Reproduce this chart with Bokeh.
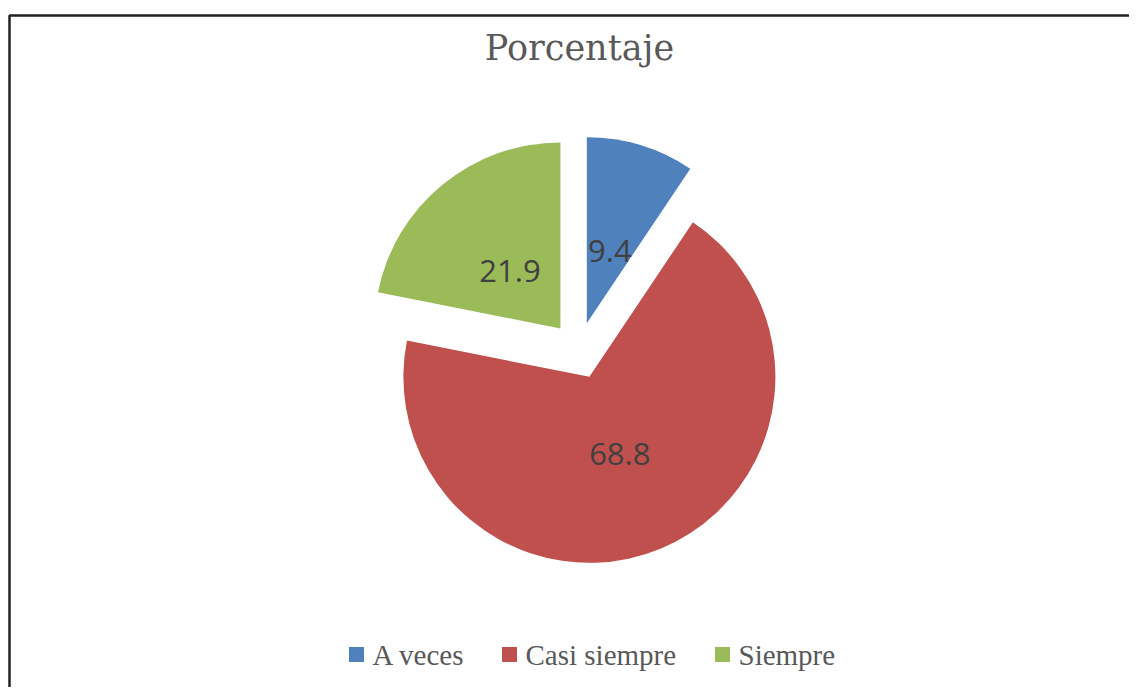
import numpy as np
from bokeh.plotting import figure
from bokeh.models import Range1d, ColumnDataSource
from bokeh.core.properties import value
from bokeh.embed import file_html
from bokeh.resources import INLINE

# ---- data ----
categories = ["A veces", "Casi siempre", "Siempre"]
values = [9.4, 68.8, 21.9]
colors = ["#4F81BD", "#C0504D", "#9BBB59"]
title_text = "Porcentaje"

# ---- layout (pixel-based data space) ----
W, H = 1129, 687
cx, cy = 578, 337          # pie centre
radius = 186
explode = 28.5
label_dist = 108
label_dy = -4
legend_x = [347, 500, 713]  # left edge of each legend item
legend_y = 33

p = figure(width=W, height=H, x_range=Range1d(0, W), y_range=Range1d(0, H),
           output_backend="svg", toolbar_location=None,
           x_axis_type=None, y_axis_type=None, min_border=0,
           outline_line_color=None, background_fill_color="white",
           border_fill_color="white")
p.xgrid.grid_line_color = None
p.ygrid.grid_line_color = None

vals = np.array(values, dtype=float)
frac = vals / vals.sum()
cum = np.concatenate([[0.0], np.cumsum(frac)]) * 2 * np.pi
th_s, th_e = cum[:-1], cum[1:]
mid = (th_s + th_e) / 2

src = ColumnDataSource(dict(
    cat=categories,
    val=[str(v) for v in values],
    color=colors,
    x=cx + explode * np.sin(mid),
    y=cy + explode * np.cos(mid),
    start=np.pi / 2 - th_s,
    end=np.pi / 2 - th_e,
    lx=cx + label_dist * np.sin(mid),
    ly=cy + label_dist * np.cos(mid) + label_dy,
))

p.wedge(x="x", y="y", radius=radius, start_angle="start", end_angle="end",
        direction="clock", fill_color="color", line_color=None, source=src)

p.text(x="lx", y="ly", text="val", source=src, text_align="center",
       text_baseline="middle", text_font=value("Open Sans"),
       text_font_size="31px", text_color="#404040")

# title
p.text(x=[cx + 1], y=[640], text=[title_text], text_align="center",
       text_baseline="alphabetic", text_font=value("DejaVu Serif"),
       text_font_size="35px", text_color="#595959")

# legend
lg = ColumnDataSource(dict(
    sx=[x + 9 for x in legend_x],
    tx=[x + 25 for x in legend_x],
    y=[legend_y] * len(categories),
    cat=categories,
    color=colors,
))
p.scatter(x="sx", y="y", marker="square", size=15, fill_color="color",
          line_color=None, source=lg)
p.text(x="tx", y="y", text="cat", source=lg, text_align="left",
       text_baseline="middle", text_font=value("Liberation Serif"),
       text_font_size="29px", text_color="#595959")

# frame (left and top edges)
p.line(x=[9, 9, W + 5], y=[-5, 672, 672], line_color="#222222",
       line_width=2.5)

open("out.html", "w").write(file_html(p, INLINE))
